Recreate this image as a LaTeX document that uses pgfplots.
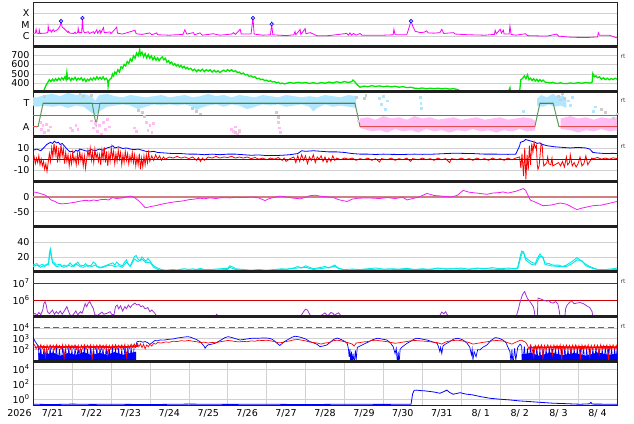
\documentclass[border=0pt]{standalone}
\usepackage{fontspec}
\setmainfont{DejaVu Sans}
\usepackage{pgfplots}
\pgfplotsset{compat=1.18}
\definecolor{xmag}{HTML}{FF00FF}
\definecolor{swgreen}{HTML}{00E600}
\definecolor{ltblue}{HTML}{B0E6FF}
\definecolor{ltpink}{HTML}{FFBDF4}
\definecolor{ltgrey}{HTML}{CCCCCC}
\definecolor{stepc}{HTML}{5A9A5A}
\definecolor{dstmag}{HTML}{EE22EE}
\definecolor{zeroros}{HTML}{D08080}
\definecolor{cyanl}{HTML}{00E8E8}
\definecolor{purp}{HTML}{A030D0}
\definecolor{lvblue}{HTML}{5060FF}
\definecolor{lvred}{HTML}{E05050}
\newcommand\tickfont{\fontsize{9.5bp}{11.4bp}\selectfont}
\pgfplotsset{
  panel/.style={scale only axis, width=584bp, xmin=0, xmax=15, anchor=north west,
    xtick=\empty, minor xtick={1,2,...,14}, xminorgrids=true, ymajorgrids=true,
    minor grid style={black!18, line width=0.4bp}, major grid style={black!18, line width=0.4bp},
    axis line style={black!85, line width=0.6bp},
    major tick length=0pt, minor tick length=0pt,
    /pgf/number format/assume math mode=true,
    tick label style={font=\tickfont},
    every axis plot/.append style={line width=0.6bp}},
}
\begin{document}
\begin{tikzpicture}
\useasboundingbox (0,0) rectangle (634bp,424bp);
% ---------- Panel 1: X-ray ----------
\begin{axis}[panel, name=p1, at={(33bp,421.3bp)}, height=43.6bp, ymode=log, ymin=1.3e-7, ymax=8e-4,
  ytick={1e-6,1e-5,1e-4}, yticklabels={\mbox{C},\mbox{M},\mbox{X}}]
\addplot[xmag, line width=0.8bp] coordinates {(0,1.7e-6)(0.06,1.8e-6)(0.08,4e-6)(0.1,1.8e-6)(0.15,1.7e-6)(0.16,3.5e-6)(0.18,1.7e-6)(0.3,1.8e-6)(0.38,2e-6)(0.39,7e-6)(0.41,3e-6)(0.45,3.4e-6)(0.47,2.2e-6)(0.52,3.8e-6)(0.55,2.5e-6)(0.62,3.5e-6)(0.66,5e-6)(0.7,8e-6)(0.72,2e-5)(0.75,6e-6)(0.8,4.5e-6)(0.85,3e-6)(0.9,2e-6)(0.91,2.6e-6)(0.95,1.8e-6)(1.05,1.7e-6)(1.08,2.2e-6)(1.1,1.7e-6)(1.15,2e-6)(1.16,4.8e-6)(1.18,2e-6)(1.25,2e-6)(1.27,3.7e-5)(1.29,3e-6)(1.33,1.9e-6)(1.42,2.4e-6)(1.45,1.7e-6)(1.55,2.4e-6)(1.58,1.7e-6)(1.64,3.6e-6)(1.66,1.8e-6)(1.72,3.3e-6)(1.74,1.8e-6)(1.81,5.5e-6)(1.83,2e-6)(1.98,2.3e-6)(2.0,1.6e-6)(2.15,6e-6)(2.17,1.8e-6)(2.3,1.5e-6)(2.62,3.2e-6)(2.65,1.6e-6)(2.8,1.4e-6)(3.0,1.9e-6)(3.05,1.3e-6)(3.18,1.9e-6)(3.2,1.3e-6)(3.5,1.2e-6)(3.85,1.4e-6)(3.9,3.5e-6)(3.95,1.5e-6)(4.12,2e-6)(4.15,1.3e-6)(4.29,1.9e-6)(4.35,1.2e-6)(4.63,1.6e-6)(4.8,1.2e-6)(5.1,1.5e-6)(5.15,2e-6)(5.2,1.4e-6)(5.32,3.9e-6)(5.35,1.5e-6)(5.6,1.5e-6)(5.65,3.7e-5)(5.68,1.5e-6)(5.9,1.2e-6)(6.1,1.3e-6)(6.13,1.1e-5)(6.16,1.3e-6)(6.5,1.1e-6)(6.7,1.3e-6)(6.73,2.5e-6)(6.75,1.3e-6)(6.86,3.8e-6)(6.88,1.4e-6)(6.99,4.5e-6)(7.01,1.6e-6)(7.12,2e-6)(7.3,1.05e-6)(7.6,1.1e-6)(8.06,1.7e-6)(8.1,1.2e-6)(8.14,1.9e-6)(8.18,1.2e-6)(8.23,1.7e-6)(8.3,1.2e-6)(8.4,1.7e-6)(8.45,1.2e-6)(9.0,1.2e-6)(9.25,1.3e-6)(9.27,3.9e-6)(9.3,1.3e-6)(9.6,1.3e-6)(9.71,2e-5)(9.76,6.5e-6)(9.82,2.6e-6)(9.95,2e-6)(10.05,2.2e-6)(10.11,2.9e-6)(10.15,1.9e-6)(10.3,1.8e-6)(10.45,2e-6)(10.5,3.9e-6)(10.55,1.7e-6)(10.8,2e-6)(10.85,1.5e-6)(11.2,1.3e-6)(11.6,1.2e-6)(11.85,1.4e-6)(11.87,3.2e-6)(11.9,1.6e-6)(12.0,3.9e-6)(12.03,1.8e-6)(12.08,3.3e-6)(12.1,1.5e-6)(12.23,1.5e-6)(12.25,7.5e-6)(12.28,1.4e-6)(12.4,1.2e-6)(12.65,1.6e-6)(12.7,1.1e-6)(13.2,1e-6)(13.45,1.5e-6)(13.5,1e-6)(13.8,8e-7)(14.2,7.5e-7)(14.5,8.5e-7)(14.52,2e-6)(14.55,1.2e-6)(14.8,1.2e-6)(15,7e-7)};
\addplot[only marks, mark=*, mark size=1.8pt, mark options={draw=blue, fill=blue!25!white, line width=0.6bp}] coordinates {(0.72,2e-5)(1.27,3.7e-5)(5.65,3.7e-5)(6.13,1.1e-5)(9.71,2e-5)};
\end{axis}
% ---------- Panel 2: speed ----------
\begin{axis}[panel, name=p2, at={(33bp,377.7bp)}, height=45.2bp, ymin=315, ymax=792, ytick={400,500,600,700}]
\addplot[swgreen, line width=1.3bp] coordinates {(0,295)(0.1,298)(0.2,300)(0.26,312)(0.3,345)(0.34,385)(0.38,410)(0.42,440)(0.46,420)(0.5,445)(0.54,425)(0.58,450)(0.62,430)(0.66,455)(0.7,435)(0.74,460)(0.78,440)(0.82,470)(0.85,440)(0.87,515)(0.89,445)(0.93,460)(0.97,430)(1.0,455)(1.04,440)(1.08,465)(1.12,435)(1.16,455)(1.2,440)(1.24,460)(1.28,430)(1.32,450)(1.36,420)(1.4,445)(1.44,430)(1.48,455)(1.52,435)(1.56,460)(1.6,440)(1.64,470)(1.68,445)(1.72,465)(1.76,445)(1.8,470)(1.84,440)(1.88,455)(1.92,430)(1.93,370)(1.95,430)(1.98,445)(2.02,460)(2.04,500)(2.07,480)(2.1,520)(2.14,500)(2.18,545)(2.22,520)(2.26,575)(2.3,560)(2.34,600)(2.38,585)(2.42,630)(2.46,610)(2.5,660)(2.54,635)(2.58,690)(2.62,665)(2.66,720)(2.7,690)(2.74,755)(2.76,700)(2.8,730)(2.84,680)(2.88,715)(2.92,670)(2.96,705)(3.0,665)(3.04,690)(3.08,650)(3.12,680)(3.16,645)(3.2,670)(3.24,640)(3.28,665)(3.32,680)(3.36,650)(3.4,665)(3.44,625)(3.48,640)(3.52,610)(3.56,625)(3.6,595)(3.64,610)(3.68,585)(3.72,600)(3.76,575)(3.8,590)(3.84,565)(3.88,580)(3.92,555)(3.96,570)(4.0,550)(4.05,560)(4.1,535)(4.15,550)(4.2,525)(4.25,545)(4.3,530)(4.35,550)(4.4,525)(4.45,545)(4.5,530)(4.55,545)(4.6,520)(4.65,540)(4.7,520)(4.75,535)(4.8,515)(4.85,530)(4.9,540)(4.95,525)(5.0,545)(5.05,530)(5.1,545)(5.15,525)(5.2,535)(5.25,515)(5.3,520)(5.35,500)(5.4,510)(5.45,490)(5.5,495)(5.55,475)(5.6,480)(5.65,465)(5.7,470)(5.75,450)(5.8,455)(5.85,440)(5.9,445)(5.95,430)(6.0,435)(6.05,422)(6.1,428)(6.15,415)(6.2,420)(6.25,405)(6.3,412)(6.35,398)(6.4,405)(6.45,395)(6.5,400)(6.6,410)(6.7,402)(6.8,412)(6.9,404)(7.0,410)(7.1,400)(7.2,408)(7.3,398)(7.4,410)(7.5,402)(7.6,415)(7.7,405)(7.8,418)(7.9,408)(8.0,420)(8.1,410)(8.18,418)(8.22,435)(8.26,420)(8.32,390)(8.4,360)(8.5,372)(8.6,366)(8.7,376)(8.8,368)(8.9,374)(9.0,366)(9.1,372)(9.2,364)(9.3,370)(9.4,360)(9.5,366)(9.6,356)(9.7,360)(9.8,350)(9.9,346)(10.0,352)(10.1,344)(10.2,350)(10.3,345)(10.4,350)(10.5,343)(10.6,348)(10.7,340)(10.8,345)(10.9,336)(10.97,322)(11.05,312)(11.3,305)(11.5,300)(12.2,300)(12.25,355)(12.27,300)(12.45,300)(12.5,320)(12.53,440)(12.58,455)(12.62,480)(12.66,450)(12.7,490)(12.74,440)(12.78,455)(12.82,430)(12.86,450)(12.9,425)(12.94,445)(12.98,420)(13.02,440)(13.06,420)(13.1,435)(13.15,415)(13.2,410)(13.3,405)(13.35,412)(13.4,404)(13.5,400)(13.55,408)(13.6,400)(13.7,398)(13.8,405)(13.9,400)(14.0,408)(14.1,402)(14.2,410)(14.3,404)(14.36,412)(14.38,505)(14.42,470)(14.46,480)(14.5,460)(14.55,470)(14.6,445)(14.65,460)(14.7,440)(14.75,455)(14.8,438)(14.85,452)(14.9,440)(14.95,455)(15.0,445)};
\end{axis}
% ---------- Panel 3: polarity ----------
\begin{axis}[panel, name=p3, at={(33bp,332.5bp)}, height=45.2bp, ymin=-1.85, ymax=2.0, ytick={-1,1}, yticklabels={\mbox{A},\mbox{T}}, ymajorgrids=false]
\addplot[only marks, mark=square*, mark size=0.9pt, ltgrey] coordinates {(0.3,1.6)(1.2,1.8)(1.3,1.6)(1.5,1.7)(2.7,0.4)(2.8,0.2)(2.85,-0.1)(4.1,0.6)(4.2,0.3)(4.3,0.1)(5.2,-1.5)(5.25,-1.7)(5.3,-1.4)(6.25,0.2)(6.3,-0.2)(8.3,1.5)(8.5,1.4)(8.55,1.7)(13.5,1.6)(13.55,1.3)(13.6,1.8)(13.65,1.4)(14.6,0.5)(14.7,0.2)(14.9,-0.3)(15,0.1)};
\addplot[fill=ltblue, draw=none] coordinates {(0,1.5)(0.1,1.5)(0.3,1.7)(0.5,1.8)(0.7,1.6)(0.9,1.9)(1.1,1.7)(1.3,1.8)(1.5,1.6)(1.6,1.2)(1.7,1.7)(1.9,1.8)(2.1,1.6)(2.3,1.5)(2.5,1.7)(2.7,1.6)(2.9,1.5)(3.1,1.6)(3.3,1.7)(3.5,1.5)(3.7,1.6)(3.9,1.7)(4.1,1.5)(4.3,1.6)(4.5,1.8)(4.7,1.6)(4.9,1.7)(5.1,1.5)(5.3,1.7)(5.5,1.6)(5.7,1.5)(5.9,1.7)(6.1,1.6)(6.3,1.5)(6.5,1.7)(6.7,1.6)(6.9,1.5)(7.1,1.6)(7.3,1.5)(7.5,1.7)(7.7,1.6)(7.9,1.5)(8.1,1.7)(8.3,1.6)(8.3,0.6)(8.1,0.7)(7.9,0.8)(7.7,0.7)(7.5,0.9)(7.3,0.6)(7.2,0.3)(7.1,0.7)(6.9,0.9)(6.7,0.8)(6.5,0.7)(6.3,0.9)(6.1,0.8)(5.9,0.9)(5.7,0.7)(5.5,0.5)(5.3,0.8)(5.1,0.9)(4.9,0.7)(4.7,0.9)(4.5,0.8)(4.3,0.6)(4.2,0.4)(4.1,0.7)(3.9,0.9)(3.7,0.8)(3.5,0.9)(3.3,0.8)(3.1,0.9)(2.9,0.7)(2.7,0.5)(2.5,0.8)(2.3,0.9)(2.1,0.8)(1.9,0.7)(1.7,0.3)(1.6,0.0)(1.5,0.2)(1.3,0.7)(1.1,0.8)(0.9,0.6)(0.7,0.8)(0.5,0.7)(0.3,0.8)(0.1,0.7)(0,0.8)};
\addplot[fill=ltblue, draw=none] coordinates {(12.95,1.4)(13.05,1.7)(13.2,1.5)(13.35,1.8)(13.5,1.5)(13.6,1.7)(13.7,1.4)(13.7,0.6)(13.55,0.8)(13.4,0.7)(13.25,0.9)(13.1,0.7)(12.95,0.8)};
\addplot[fill=ltpink, draw=none] coordinates {(8.4,-0.3)(8.6,-0.2)(8.8,-0.4)(9.0,-0.1)(9.2,-0.3)(9.4,-0.2)(9.6,-0.4)(9.8,-0.1)(10.0,-0.3)(10.2,-0.2)(10.4,-0.4)(10.6,-0.3)(10.8,-0.2)(11.0,-0.4)(11.2,-0.3)(11.4,-0.2)(11.6,-0.4)(11.8,-0.3)(12.0,-0.2)(12.2,-0.4)(12.4,-0.3)(12.6,-0.2)(12.8,-0.3)(12.9,-0.5)(12.9,-1.3)(12.7,-1.4)(12.5,-1.2)(12.3,-1.4)(12.1,-1.3)(11.9,-1.5)(11.7,-1.3)(11.5,-1.4)(11.3,-1.2)(11.1,-1.4)(10.9,-1.3)(10.7,-1.5)(10.5,-1.3)(10.3,-1.4)(10.1,-1.2)(9.9,-1.5)(9.7,-1.3)(9.5,-1.4)(9.3,-1.2)(9.1,-1.5)(8.9,-1.3)(8.7,-1.4)(8.5,-1.2)(8.4,-1.1)};
\addplot[fill=ltpink, draw=none] coordinates {(13.55,-0.3)(13.8,-0.1)(14.0,-0.3)(14.2,-0.2)(14.4,-0.4)(14.6,-0.2)(14.8,-0.3)(15,-0.2)(15,-1.3)(14.8,-1.4)(14.6,-1.2)(14.4,-1.4)(14.2,-1.3)(14.0,-1.5)(13.8,-1.3)(13.55,-1.2)};
\addplot[only marks, mark=square*, mark size=0.9pt, ltpink] coordinates {(0.2,-0.6)(0.22,-1.2)(0.25,-0.9)(0.3,-1.5)(0.35,-0.8)(0.4,-1.3)(0.45,-1.0)(0.95,-1.1)(1.0,-1.3)(1.1,-0.9)(1.15,-1.2)(1.5,-0.5)(1.55,-1.1)(1.6,-0.7)(1.65,-1.4)(1.7,-0.9)(1.75,-1.6)(1.8,-0.6)(1.85,-1.2)(1.9,-0.4)(1.95,-1.0)(2.6,-1.1)(2.65,-1.4)(2.9,-0.6)(2.95,-1.3)(3.0,-0.9)(3.05,-1.5)(3.1,-0.7)(5.1,-1.2)(5.15,-1.4)(5.2,-1.0)(5.25,-1.6)(5.3,-1.3)(6.3,-0.6)(6.32,-1.1)(6.35,-1.5)(8.35,-0.5)};
\addplot[only marks, mark=square*, mark size=0.9pt, ltblue] coordinates {(8.9,1.4)(8.95,0.9)(9.0,1.6)(9.05,0.5)(9.1,1.2)(9.94,1.5)(9.96,1.0)(9.98,0.6)(12.6,0.3)(13.75,1.2)(13.8,0.8)(13.85,1.5)(14.4,0.3)(14.45,0.7)};
\addplot[black!55, line width=0.7bp] coordinates {(0,0)(15,0)};
\addplot[stepc, line width=1bp] coordinates {(0,-1)(0.13,-1)(0.26,1)(1.52,1)(1.62,-0.85)(1.72,1)(8.27,1)(8.40,-1)(12.89,-1)(13.02,1)(13.36,1)(13.51,-1)(15,-1)};
\addplot[lvblue, line width=0.9bp] coordinates {(0.26,1)(8.27,1)};
\addplot[lvblue, line width=0.9bp] coordinates {(13.02,1)(13.36,1)};
\addplot[lvred, line width=0.9bp] coordinates {(0,-1)(0.13,-1)};
\addplot[lvred, line width=0.9bp] coordinates {(8.40,-1)(12.89,-1)};
\addplot[lvred, line width=0.9bp] coordinates {(13.51,-1)(15,-1)};
\end{axis}
% ---------- Panel 4: Bt / Bz ----------
\begin{axis}[panel, name=p4, at={(33bp,287.3bp)}, height=45bp, ymin=-20, ymax=20, ytick={-10,0,10}]
\addplot[blue, line width=0.8bp] coordinates {(0,8)(0.1,9)(0.2,7.5)(0.3,11)(0.35,13)(0.4,14)(0.45,15)(0.5,14)(0.55,16)(0.6,14.5)(0.65,15)(0.7,13)(0.75,14)(0.8,12)(0.85,10)(0.9,8)(0.95,6.5)(1.0,7)(1.05,6)(1.1,8)(1.15,7)(1.2,9)(1.3,8)(1.4,7)(1.5,8.5)(1.6,7.5)(1.7,9)(1.8,8)(1.9,10)(2.0,11)(2.05,12)(2.1,10)(2.2,11)(2.3,9.5)(2.4,10)(2.5,9)(2.6,8.5)(2.7,9)(2.8,8)(2.9,7)(3.0,6.5)(3.1,7)(3.2,6)(3.4,5.5)(3.6,5)(3.8,5)(4.0,4.5)(4.2,4.5)(4.4,4)(4.6,4.5)(4.8,4)(5.0,4.5)(5.2,4.5)(5.4,4)(5.6,3.5)(5.8,3.8)(6.0,3.2)(6.2,3.2)(6.4,3.5)(6.6,4)(6.8,5)(6.9,7.5)(7.0,7)(7.2,7.5)(7.4,7)(7.6,6.5)(7.8,6.5)(8.0,6)(8.2,5)(8.4,4.5)(8.6,4.5)(8.8,4.2)(9.0,4.5)(9.2,4.3)(9.5,4.2)(9.8,4.5)(10.0,4.3)(10.3,4.5)(10.6,5)(10.8,5.3)(11.0,5.2)(11.3,5)(11.6,4.5)(11.9,4.5)(12.2,4.3)(12.4,4.5)(12.5,12)(12.52,15)(12.6,16)(12.65,17.5)(12.7,17)(12.8,16)(12.9,15)(12.95,14)(13.0,14.5)(13.1,13)(13.2,12)(13.3,11.5)(13.4,11)(13.6,10.5)(13.8,10)(14.0,10.5)(14.2,10)(14.3,9)(14.38,6)(14.5,5.5)(14.7,5)(14.9,5.2)(15,5)};
\addplot[red, line width=0.8bp] coordinates {(0,-2)(0.03,2)(0.06,-4)(0.09,1)(0.12,-3)(0.15,3)(0.18,-5)(0.21,0)(0.24,-6)(0.27,-2)(0.3,-9)(0.33,-4)(0.36,-11)(0.39,-3)(0.42,5)(0.45,-2)(0.48,10)(0.51,2)(0.54,14)(0.57,4)(0.6,12)(0.63,-3)(0.66,8)(0.69,0)(0.72,13)(0.75,3)(0.78,9)(0.81,-4)(0.84,6)(0.87,-2)(0.9,4)(0.93,-6)(0.96,3)(0.99,-4)(1.02,6)(1.05,-2)(1.08,2)(1.11,-5)(1.14,5)(1.17,-3)(1.2,7)(1.23,-1)(1.26,4)(1.29,-6)(1.32,3)(1.35,-8)(1.38,0)(1.41,8)(1.44,2)(1.47,10)(1.5,-1)(1.53,6)(1.56,-3)(1.59,9)(1.62,1)(1.65,5)(1.68,-2)(1.71,4)(1.74,-5)(1.77,8)(1.8,0)(1.83,11)(1.86,-3)(1.89,7)(1.92,-6)(1.95,5)(1.98,-2)(2.01,10)(2.04,1)(2.07,7)(2.1,-4)(2.13,5)(2.16,-2)(2.19,8)(2.22,0)(2.25,6)(2.28,-5)(2.31,4)(2.34,-3)(2.37,7)(2.4,-1)(2.43,5)(2.46,-4)(2.49,3)(2.52,-2)(2.55,6)(2.58,-3)(2.61,4)(2.64,-6)(2.67,2)(2.7,-5)(2.73,5)(2.76,-9)(2.79,1)(2.82,-7)(2.85,3)(2.88,-5)(2.91,4)(2.94,-3)(2.97,6)(3.0,-2)(3.05,3)(3.1,-1)(3.15,4)(3.2,0)(3.25,3)(3.3,-1)(3.35,2)(3.4,0)(3.5,2)(3.6,1)(3.7,2.5)(3.8,1)(3.9,2)(4.0,0.5)(4.1,2)(4.2,-1)(4.25,1.5)(4.3,-2)(4.35,1)(4.4,-1)(4.5,2)(4.6,1)(4.7,2.5)(4.8,1)(4.9,2)(5.0,1.5)(5.1,2.5)(5.2,1)(5.3,2)(5.4,1)(5.5,2)(5.6,0.5)(5.7,1.5)(5.8,0)(5.9,1)(6.0,-0.5)(6.1,1)(6.2,0)(6.3,1.5)(6.4,-1)(6.45,1)(6.5,-2)(6.6,0.5)(6.7,2)(6.75,-3)(6.8,3)(6.85,-2)(6.9,4)(6.95,-1)(7.0,3)(7.05,-4)(7.1,2)(7.15,-1)(7.2,4)(7.25,-3)(7.3,2)(7.35,0)(7.4,3)(7.45,-2)(7.5,2)(7.55,-3)(7.6,1)(7.65,-2)(7.7,3)(7.75,-1)(7.8,1)(7.9,-0.5)(8.0,1)(8.1,0)(8.2,1)(8.3,-1)(8.4,0.5)(8.5,-0.5)(8.6,1)(8.7,-1)(8.8,0.5)(8.9,-2.5)(8.95,0.5)(9.1,-0.5)(9.2,1)(9.3,-1)(9.4,0.5)(9.5,-0.5)(9.6,1)(9.7,-2)(9.75,0.5)(9.9,-0.5)(10.0,1)(10.1,-0.5)(10.2,0.5)(10.3,-1)(10.4,1)(10.5,-0.5)(10.6,0.5)(10.7,-3)(10.75,0.5)(10.9,-0.5)(11.0,1)(11.1,-0.5)(11.2,0.5)(11.3,-1)(11.4,1)(11.5,-0.5)(11.6,0.5)(11.7,-1)(11.8,1)(11.9,-0.5)(12.0,0.5)(12.1,-1)(12.2,1)(12.3,-0.5)(12.4,1)(12.5,2)(12.53,-8)(12.56,5)(12.6,-15)(12.63,10)(12.66,-18)(12.69,4)(12.72,-10)(12.75,12)(12.78,-5)(12.81,14)(12.84,6)(12.87,15)(12.9,10)(12.93,12)(12.95,-4)(12.97,-9)(13.0,-6)(13.05,14)(13.08,12)(13.1,0)(13.12,-6)(13.15,-5)(13.2,-3)(13.22,2)(13.25,-4)(13.3,-5)(13.33,1)(13.35,-6)(13.4,-5)(13.45,-4)(13.5,-3)(13.55,-6)(13.6,-2)(13.65,-7)(13.7,2)(13.73,-5)(13.78,-3)(13.8,4)(13.85,-6)(13.9,-3)(13.95,-7)(14.0,-4)(14.05,2)(14.1,-6)(14.15,-4)(14.2,3)(14.25,-5)(14.3,-2)(14.35,1)(14.4,0.5)(14.5,1.5)(14.6,0)(14.7,1)(14.8,0)(14.9,1.2)(15,0.5)};
\addplot[red!60!black, line width=0.8bp] coordinates {(0,0)(15,0)};
\end{axis}
% ---------- Panel 5: Dst ----------
\begin{axis}[panel, name=p5, at={(33bp,242.3bp)}, height=45bp, ymin=-100, ymax=50, ytick={-50,0}]
\addplot[zeroros, line width=2bp] coordinates {(0,0)(15,0)};
\addplot[dstmag, line width=0.8bp] coordinates {(0,16)(0.1,14)(0.2,10)(0.3,6)(0.4,-2)(0.45,-10)(0.55,-15)(0.65,-22)(0.75,-24)(0.9,-22)(1.0,-20)(1.1,-18)(1.2,-15)(1.35,-12)(1.45,-14)(1.55,-11)(1.65,-13)(1.72,-10)(1.85,-9)(1.95,-11)(2.03,-3)(2.15,-6)(2.3,-4)(2.45,1)(2.5,2)(2.6,-2)(2.7,-12)(2.8,-25)(2.88,-37)(2.95,-35)(3.05,-32)(3.15,-30)(3.3,-25)(3.5,-20)(3.65,-17)(3.8,-15)(3.9,-13)(4.0,-10)(4.15,-8)(4.29,-5)(4.4,-7)(4.55,-4)(4.7,-6)(4.85,-3)(5.06,-4)(5.2,-2)(5.4,-3)(5.6,-1)(5.8,-4)(5.96,-13)(6.05,-7)(6.2,-2)(6.34,2)(6.5,-1)(6.7,-5)(6.86,-7)(7.0,-2)(7.1,3)(7.24,5)(7.37,2)(7.5,0)(7.7,-2)(7.85,-10)(8.07,-16)(8.2,-8)(8.35,-5)(8.6,-4)(8.9,-6)(9.1,-3)(9.3,-6)(9.5,-2)(9.61,-11)(9.75,-6)(9.9,-2)(10.12,11)(10.3,4)(10.5,2)(10.7,-1)(10.79,0)(10.9,5)(11.05,21)(11.2,15)(11.4,12)(11.66,8)(11.8,12)(12.0,14)(12.07,16)(12.2,12)(12.4,18)(12.59,27)(12.65,22)(12.77,-11)(12.9,-18)(13.1,-30)(13.3,-28)(13.54,-21)(13.7,-25)(13.97,-43)(14.1,-38)(14.38,-30)(14.6,-28)(14.8,-22)(15,-16)};
\end{axis}
% ---------- Panel 6: cyan ----------
\begin{axis}[panel, name=p6, at={(33bp,197.3bp)}, height=45bp, ymin=0, ymax=61, ytick={20,40}]
\addplot[cyanl, line width=0.9bp] coordinates {(0,7)(0.1,9)(0.2,6)(0.3,9)(0.4,10)(0.44,28)(0.47,22)(0.5,12)(0.6,7)(0.7,8)(0.8,6)(0.9,9)(1.0,7)(1.1,11)(1.2,7)(1.3,6)(1.4,9)(1.5,7)(1.6,9)(1.7,5)(1.8,6)(1.9,8)(2.0,9)(2.1,7)(2.2,8)(2.3,6)(2.4,13)(2.5,7)(2.6,17)(2.7,14)(2.8,17)(2.9,12)(3.0,13)(3.1,6)(3.2,3)(3.4,1.5)(3.6,2)(3.8,2.5)(4.0,2)(4.3,3)(4.6,2)(5.0,3)(5.05,6)(5.2,3)(5.6,1.5)(6.0,1.5)(6.4,3)(6.8,5)(7.0,6)(7.2,3)(7.5,5)(7.75,7)(8.0,2)(8.5,3)(9.0,2.5)(9.5,3)(10.0,3)(10.5,4)(11.0,3.5)(11.5,4)(12.0,3)(12.45,4)(12.5,14)(12.55,24)(12.6,27)(12.65,16)(12.7,14)(12.8,10)(12.9,9)(12.95,14)(13.02,21)(13.1,20)(13.15,10)(13.3,8)(13.5,7)(13.7,7)(13.85,11)(13.97,16)(14.1,15)(14.2,8)(14.4,4)(14.6,2)(15,3)};
\addplot[cyanl, line width=0.9bp] coordinates {(0,9)(0.1,11)(0.15,8)(0.25,10)(0.3,7)(0.35,9)(0.4,12)(0.42,25)(0.45,31)(0.48,20)(0.5,14)(0.55,12)(0.6,9)(0.7,10)(0.75,7)(0.8,9)(0.85,7)(0.9,8)(0.95,12)(1.0,9)(1.05,7)(1.1,10)(1.15,13)(1.2,9)(1.3,8)(1.35,11)(1.4,7)(1.5,9)(1.55,13)(1.6,11)(1.65,7)(1.75,6)(1.85,8)(1.95,10)(2.05,12)(2.1,9)(2.15,13)(2.2,10)(2.3,8)(2.35,13)(2.4,16)(2.45,10)(2.5,8)(2.55,14)(2.6,20)(2.65,22)(2.7,17)(2.75,15)(2.8,20)(2.85,17)(2.9,14)(2.95,18)(3.0,15)(3.05,11)(3.1,8)(3.2,5)(3.3,3)(3.4,2)(3.5,2.5)(3.6,3)(3.7,2)(3.8,3.5)(3.9,4)(4.0,3)(4.1,4)(4.2,3)(4.3,4.5)(4.4,3)(4.6,3)(4.8,4)(5.0,4.5)(5.05,8)(5.15,6)(5.2,4)(5.4,3)(5.6,2)(5.8,3)(6.0,2)(6.2,3)(6.4,4)(6.5,3)(6.7,5)(6.8,7)(6.9,5)(7.0,8)(7.1,6)(7.2,4)(7.4,6)(7.5,7)(7.6,5)(7.75,9)(7.85,4)(8.0,3)(8.2,3.5)(8.4,3)(8.6,4)(8.8,5)(9.0,3.5)(9.2,4)(9.4,3.5)(9.6,4.5)(9.8,3)(10.0,4)(10.2,3)(10.4,5)(10.6,3.5)(10.8,4)(11.0,5)(11.2,3)(11.4,5)(11.6,4)(11.8,5.5)(12.0,4)(12.2,5)(12.4,4)(12.45,6)(12.5,18)(12.55,28)(12.6,26)(12.65,19)(12.7,17)(12.8,13)(12.9,11)(12.95,18)(13.02,24)(13.1,18)(13.15,12)(13.25,11)(13.35,9)(13.5,9)(13.6,7)(13.7,9)(13.85,14)(13.97,19)(14.1,14)(14.2,10)(14.3,7)(14.4,5)(14.5,3)(14.7,3)(14.9,4)(15,5)};
\end{axis}
% ---------- Panel 7: protons ----------
\begin{axis}[panel, name=p7, at={(33bp,152.3bp)}, height=45bp, ymode=log, ymin=1e5, ymax=4.9e7, ytick={1e6,1e7},
  yticklabels={\mbox{10\textsuperscript{6}},\mbox{10\textsuperscript{7}}}, ymajorgrids=false]
\addplot[red!80!black, line width=0.8bp] coordinates {(0,1e6)(15,1e6)};
\addplot[red!80!black, line width=0.8bp] coordinates {(0,1e7)(15,1e7)};
\addplot[purp, line width=0.8bp] coordinates {(0,1.3e5)(0.05,1.6e5)(0.1,1.2e5)(0.15,1.8e5)(0.2,1.3e5)(0.25,2.5e5)(0.28,6e5)(0.31,8e5)(0.34,5e5)(0.37,2e5)(0.42,1.5e5)(0.5,2.5e5)(0.55,1.4e5)(0.6,2e5)(0.65,1.5e5)(0.7,2.2e5)(0.75,1.4e5)(0.82,2.5e5)(0.87,4e5)(0.9,2.5e5)(0.95,1.3e5)(1.0,1.1e5)(1.05,1.5e5)(1.1,2.2e5)(1.15,1.3e5)(1.22,2e5)(1.26,1.6e5)(1.3,3e5)(1.34,6e5)(1.38,4e5)(1.42,6.5e5)(1.46,8e5)(1.5,5e5)(1.55,3e5)(1.59,1.3e5)(1.65,1.2e5)(1.72,1.5e5)(1.77,1.9e5)(1.82,1.4e5)(1.9,1.6e5)(1.98,2e5)(2.02,1.4e5)(2.08,1.3e5)(2.12,4e5)(2.16,5e5)(2.2,3e5)(2.25,4.5e5)(2.3,2.2e5)(2.36,4e5)(2.4,3e5)(2.45,5e5)(2.5,3.5e5)(2.55,5e5)(2.62,6.5e5)(2.67,5e5)(2.72,5.5e5)(2.77,4e5)(2.82,4.5e5)(2.88,3e5)(2.95,3.5e5)(3.0,2e5)(3.05,2.5e5)(3.13,1.6e5)(3.18,1e5)(3.2,5e4)(4.6,5e4)(4.68,1.1e5)(4.72,1.4e5)(4.76,1e5)(4.8,5e4)(6.8,5e4)(6.85,1.1e5)(6.9,1.3e5)(6.95,2e5)(7.0,2.8e5)(7.05,2.5e5)(7.1,1.5e5)(7.14,1e5)(7.2,5e4)(7.35,5e4)(7.4,1.2e5)(7.45,1.4e5)(7.5,1.7e5)(7.55,1.2e5)(7.6,1.3e5)(7.65,1.8e5)(7.7,1.6e5)(7.75,1.2e5)(7.8,1.5e5)(7.85,1.7e5)(7.9,1.2e5)(8.0,1.1e5)(8.1,5e4)(10.4,5e4)(10.45,1.2e5)(10.5,1.9e5)(10.55,1.5e5)(10.6,2e5)(10.65,1.2e5)(10.7,5e4)(12.38,5e4)(12.42,1.2e5)(12.47,3e5)(12.5,6e5)(12.55,1.5e6)(12.59,2.5e6)(12.63,3.2e6)(12.66,2e6)(12.7,1.2e6)(12.75,9e5)(12.8,6e5)(12.85,4e5)(12.88,2e5)(12.9,5e4)(12.95,5e4)(12.97,1.3e6)(13.02,1.2e6)(13.1,1e6)(13.19,8.5e5)(13.25,9e5)(13.3,7e5)(13.36,6.5e5)(13.42,8e5)(13.48,6e5)(13.52,2e5)(13.55,5e4)(13.65,5e4)(13.68,3e5)(13.72,5e5)(13.79,7.5e5)(13.85,8e5)(13.9,6e5)(13.96,6.5e5)(14.05,7e5)(14.14,6e5)(14.22,4.5e5)(14.3,3.5e5)(14.36,2e5)(14.4,5e4)(15,5e4)};
\end{axis}
% ---------- Panel 8: electrons ----------
\begin{axis}[panel, name=p8, at={(33bp,107.3bp)}, height=45bp, ymode=log, ymin=7, ymax=1.05e5, ytick={1e2,1e3,1e4},
  yticklabels={\mbox{10\textsuperscript{2}},\mbox{10\textsuperscript{3}},\mbox{10\textsuperscript{4}}}]
\addplot[only marks, mark=-, mark size=3bp, mark options={draw=red!85!white, line width=1.1bp}] coordinates {(0.1,1e4)(0.35,1e4)(0.6,1e4)(0.85,1e4)(1.1,1e4)(1.35,1e4)(1.6,1e4)(1.85,1e4)(2.1,1e4)(2.35,1e4)(2.6,1e4)(2.85,1e4)(3.1,1e4)(3.35,1e4)(3.6,1e4)(3.85,1e4)(4.1,1e4)(4.35,1e4)(4.6,1e4)(4.85,1e4)(5.1,1e4)(5.35,1e4)(5.6,1e4)(5.85,1e4)(6.1,1e4)(6.35,1e4)(6.6,1e4)(6.85,1e4)(7.1,1e4)(7.35,1e4)(7.6,1e4)(7.85,1e4)(8.1,1e4)(8.35,1e4)(8.6,1e4)(8.85,1e4)(9.1,1e4)(9.35,1e4)(9.6,1e4)(9.85,1e4)(10.1,1e4)(10.35,1e4)(10.6,1e4)(10.85,1e4)(11.1,1e4)(11.35,1e4)(11.6,1e4)(11.85,1e4)(12.1,1e4)(12.35,1e4)(12.6,1e4)(12.85,1e4)(13.1,1e4)(13.35,1e4)(13.6,1e4)(13.85,1e4)(14.1,1e4)(14.35,1e4)(14.6,1e4)(14.85,1e4)};
\addplot[fill=blue, draw=none] coordinates {(0.14,4)(0.14,45)(0.3,30)(0.5,50)(0.7,25)(0.9,45)(1.1,30)(1.3,55)(1.5,28)(1.7,45)(1.9,30)(2.1,55)(2.3,30)(2.5,45)(2.65,60)(2.65,4)};
\addplot[fill=blue, draw=none] coordinates {(12.55,4)(12.55,35)(12.8,45)(13.0,25)(13.3,50)(13.6,28)(13.9,45)(14.2,25)(14.5,50)(14.8,30)(15,40)(15,4)};
\addplot[blue, line width=0.7bp] coordinates {(0,1050)(0.03,800)(0.06,500)(0.1,300)(0.14,200)(0.16,3)(0.2,150)(0.24,3)(0.28,120)(0.32,4)(0.36,100)(0.4,3)(0.44,140)(0.48,5)(0.52,90)(0.56,3)(0.6,160)(0.64,4)(0.68,110)(0.72,3)(0.76,130)(0.8,20)(0.84,100)(0.88,3)(0.92,150)(0.96,4)(1.0,90)(1.04,3)(1.08,120)(1.12,10)(1.16,140)(1.2,3)(1.24,100)(1.28,4)(1.32,170)(1.36,3)(1.4,110)(1.44,5)(1.48,130)(1.52,3)(1.56,90)(1.6,4)(1.64,150)(1.68,3)(1.72,120)(1.76,20)(1.8,100)(1.84,3)(1.88,140)(1.92,4)(1.96,110)(2.0,3)(2.04,160)(2.08,5)(2.12,100)(2.16,3)(2.2,130)(2.24,4)(2.28,90)(2.32,3)(2.36,150)(2.4,10)(2.44,120)(2.48,3)(2.52,140)(2.56,4)(2.6,200)(2.64,150)(2.67,500)(2.75,560)(2.82,450)(2.88,520)(2.95,400)(3.0,280)(3.05,380)(3.13,650)(3.2,600)(3.26,720)(3.35,700)(3.5,850)(3.6,900)(3.7,1100)(3.78,1200)(3.88,1350)(3.98,1480)(4.05,1300)(4.1,1100)(4.2,800)(4.29,500)(4.35,300)(4.4,180)(4.42,123)(4.46,200)(4.5,260)(4.6,300)(4.68,360)(4.75,500)(4.85,800)(4.93,1200)(5.01,1480)(5.08,1300)(5.15,1100)(5.25,850)(5.32,720)(5.45,850)(5.57,1000)(5.65,1050)(5.75,1050)(5.9,1100)(6.0,1100)(6.09,1000)(6.15,800)(6.2,600)(6.27,350)(6.34,220)(6.38,300)(6.45,500)(6.55,800)(6.65,1300)(6.73,1600)(6.82,1450)(6.9,1200)(7.0,900)(7.12,500)(7.2,400)(7.3,280)(7.37,175)(7.45,200)(7.55,250)(7.65,500)(7.72,800)(7.81,1100)(7.88,900)(7.95,700)(8.02,500)(8.07,350)(8.1,120)(8.12,20)(8.14,100)(8.16,5)(8.18,60)(8.2,4)(8.22,40)(8.25,5)(8.28,80)(8.3,10)(8.33,150)(8.4,200)(8.5,300)(8.6,450)(8.7,700)(8.8,950)(8.86,1050)(8.95,900)(9.09,720)(9.18,400)(9.25,175)(9.3,40)(9.33,120)(9.36,5)(9.38,60)(9.4,4)(9.43,100)(9.47,150)(9.55,250)(9.61,360)(9.7,550)(9.8,900)(9.86,1050)(9.95,950)(10.05,800)(10.12,720)(10.25,500)(10.38,360)(10.42,150)(10.45,60)(10.47,150)(10.5,40)(10.53,200)(10.58,280)(10.63,360)(10.7,500)(10.8,850)(10.89,1050)(10.98,900)(11.05,700)(11.15,360)(11.22,150)(11.26,30)(11.28,100)(11.3,10)(11.33,60)(11.38,20)(11.42,90)(11.48,87)(11.55,150)(11.66,250)(11.75,600)(11.87,1200)(11.95,1100)(12.07,720)(12.15,400)(12.2,150)(12.25,60)(12.28,5)(12.3,90)(12.33,4)(12.37,120)(12.4,10)(12.45,150)(12.51,300)(12.55,200)(12.58,5)(12.62,180)(12.66,3)(12.7,120)(12.74,4)(12.78,200)(12.82,5)(12.86,100)(12.9,3)(12.94,150)(12.98,4)(13.02,90)(13.06,3)(13.1,130)(13.14,6)(13.18,100)(13.22,3)(13.26,160)(13.3,4)(13.34,110)(13.38,3)(13.42,140)(13.46,5)(13.5,90)(13.54,3)(13.58,120)(13.62,4)(13.66,150)(13.7,3)(13.74,100)(13.78,5)(13.82,170)(13.86,3)(13.9,110)(13.94,4)(13.98,130)(14.02,3)(14.06,90)(14.1,5)(14.14,150)(14.18,3)(14.22,100)(14.26,4)(14.3,140)(14.34,3)(14.38,110)(14.42,5)(14.46,160)(14.5,3)(14.54,120)(14.58,4)(14.62,100)(14.66,3)(14.7,150)(14.74,5)(14.78,90)(14.82,3)(14.86,130)(14.9,4)(14.94,110)(14.98,3)(15,140)};
\addplot[fill=red, draw=none] coordinates {(0,140)(0.2,200)(0.4,185)(0.6,210)(0.8,190)(1.0,205)(1.2,185)(1.4,210)(1.6,190)(1.8,205)(2.0,185)(2.2,210)(2.4,195)(2.6,230)(2.7,240)(2.7,170)(2.5,140)(2.3,135)(2.1,145)(1.9,130)(1.7,140)(1.5,135)(1.3,145)(1.1,130)(0.9,140)(0.7,135)(0.5,145)(0.3,135)(0.1,145)};
\addplot[fill=red, draw=none] coordinates {(12.7,130)(12.9,190)(13.2,175)(13.5,200)(13.8,180)(14.1,195)(14.4,175)(14.7,200)(15,185)(15,120)(14.7,115)(14.4,125)(14.1,110)(13.8,120)(13.5,115)(13.2,125)(12.9,115)};
\addplot[red, line width=0.7bp] coordinates {(0,200)(0.04,260)(0.08,110)(0.12,240)(0.16,100)(0.2,270)(0.24,120)(0.28,230)(0.32,20)(0.36,250)(0.4,100)(0.44,260)(0.48,110)(0.52,240)(0.56,90)(0.6,270)(0.64,120)(0.68,230)(0.72,100)(0.76,260)(0.8,15)(0.84,250)(0.88,110)(0.92,270)(0.96,95)(1.0,240)(1.04,120)(1.08,260)(1.12,100)(1.16,230)(1.2,40)(1.24,250)(1.28,110)(1.32,270)(1.36,95)(1.4,240)(1.44,120)(1.48,260)(1.52,10)(1.56,230)(1.6,100)(1.64,250)(1.68,110)(1.72,270)(1.76,95)(1.8,240)(1.84,120)(1.88,260)(1.92,30)(1.96,230)(2.0,100)(2.04,250)(2.08,110)(2.12,270)(2.16,95)(2.2,240)(2.24,120)(2.28,260)(2.32,100)(2.36,280)(2.4,20)(2.44,250)(2.48,120)(2.52,300)(2.56,150)(2.6,320)(2.64,180)(2.68,350)(2.72,170)(2.76,320)(2.8,140)(2.84,300)(2.88,110)(2.92,250)(2.96,170)(3.0,280)(3.05,200)(3.1,350)(3.15,300)(3.2,420)(3.3,380)(3.4,480)(3.5,440)(3.6,560)(3.7,520)(3.8,620)(3.9,580)(4.0,650)(4.1,560)(4.2,500)(4.3,420)(4.4,450)(4.5,380)(4.6,430)(4.7,400)(4.8,500)(4.9,560)(5.0,650)(5.1,600)(5.2,520)(5.3,480)(5.4,540)(5.5,500)(5.6,600)(5.7,560)(5.8,680)(5.9,640)(6.0,700)(6.1,600)(6.2,520)(6.3,400)(6.4,420)(6.5,520)(6.6,600)(6.7,750)(6.8,800)(6.9,700)(7.0,600)(7.1,480)(7.2,420)(7.3,380)(7.4,300)(7.5,380)(7.6,420)(7.7,600)(7.8,700)(7.9,620)(8.0,500)(8.1,400)(8.2,300)(8.25,200)(8.3,380)(8.4,420)(8.5,480)(8.6,520)(8.7,640)(8.8,700)(8.9,620)(9.0,560)(9.1,500)(9.2,420)(9.3,360)(9.4,400)(9.5,460)(9.6,520)(9.7,600)(9.8,650)(9.9,620)(10.0,580)(10.1,550)(10.2,500)(10.3,450)(10.4,400)(10.5,300)(10.6,480)(10.7,580)(10.8,650)(10.9,700)(11.0,620)(11.1,520)(11.2,420)(11.3,300)(11.4,350)(11.5,400)(11.6,460)(11.7,520)(11.8,600)(11.9,650)(12.0,620)(12.1,550)(12.2,400)(12.3,300)(12.4,450)(12.5,650)(12.55,700)(12.6,550)(12.65,450)(12.7,240)(12.74,100)(12.78,260)(12.82,110)(12.86,20)(12.9,230)(12.94,95)(12.98,240)(13.02,100)(13.06,250)(13.1,15)(13.14,230)(13.18,100)(13.22,260)(13.26,110)(13.3,230)(13.34,30)(13.38,250)(13.42,95)(13.46,240)(13.5,100)(13.54,260)(13.58,12)(13.62,230)(13.66,100)(13.7,250)(13.74,110)(13.78,230)(13.82,40)(13.86,240)(13.9,100)(13.94,260)(13.98,100)(14.02,230)(14.06,15)(14.1,250)(14.14,95)(14.18,240)(14.22,110)(14.26,260)(14.3,20)(14.34,230)(14.38,100)(14.42,250)(14.46,100)(14.5,240)(14.54,30)(14.58,260)(14.62,100)(14.66,230)(14.7,110)(14.74,250)(14.78,12)(14.82,240)(14.86,100)(14.9,260)(14.94,100)(14.98,230)(15,110)};
\end{axis}
% ---------- Panel 9 ----------
\begin{axis}[panel, name=p9, at={(33bp,62.3bp)}, height=43.8bp, ymode=log, ymin=0.15, ymax=9e4, ytick={1,1e2,1e4},
  yticklabels={\mbox{10\textsuperscript{0}},\mbox{10\textsuperscript{2}},\mbox{10\textsuperscript{4}}},
  xtick={0.5,1.5,...,14.5}, xticklabels={\mbox{7/21},\mbox{7/22},\mbox{7/23},\mbox{7/24},\mbox{7/25},\mbox{7/26},\mbox{7/27},\mbox{7/28},\mbox{7/29},\mbox{7/30},\mbox{7/31},\mbox{8/ 1},\mbox{8/ 2},\mbox{8/ 3},\mbox{8/ 4}}]
\addplot[blue, line width=0.8bp] coordinates {(0,0.22)(0.5,0.2)(1,0.23)(1.5,0.21)(2,0.22)(3,0.2)(4,0.23)(5,0.21)(6,0.22)(7,0.2)(8,0.22)(9,0.21)(9.71,0.22)(9.75,5)(9.79,15)(9.85,16)(9.94,14)(10.05,13)(10.17,11)(10.3,9)(10.45,6.2)(10.55,10)(10.63,16)(10.7,8)(10.79,4.6)(10.9,6)(10.97,7.4)(11.1,5)(11.3,3.7)(11.5,2.2)(11.74,1.35)(12.0,1.0)(12.25,0.81)(12.5,0.6)(12.77,0.49)(13.0,0.4)(13.36,0.3)(13.7,0.26)(14.05,0.22)(14.3,0.25)(14.33,0.4)(14.36,0.23)(15,0.22)};
\end{axis}
% separators and extra labels
\foreach \p in {p1,p2,p3,p4,p5,p6,p7,p8}{\draw[line width=2.6bp, black!88] (\p.south west) -- (\p.south east);}
\draw[line width=1.6bp, black!88] (p9.south west) -- (p9.south east);
\node[anchor=north, font=\tickfont] at (19.5bp,18.5bp) {2026};
\foreach \yy in {367.3,324,277.3,142.3,97.3}{\node[anchor=west, inner sep=0pt, font=\fontsize{6}{7}\selectfont, text=black!75] at (620.5bp,\yy bp) {rt};}
\end{tikzpicture}
\end{document}
